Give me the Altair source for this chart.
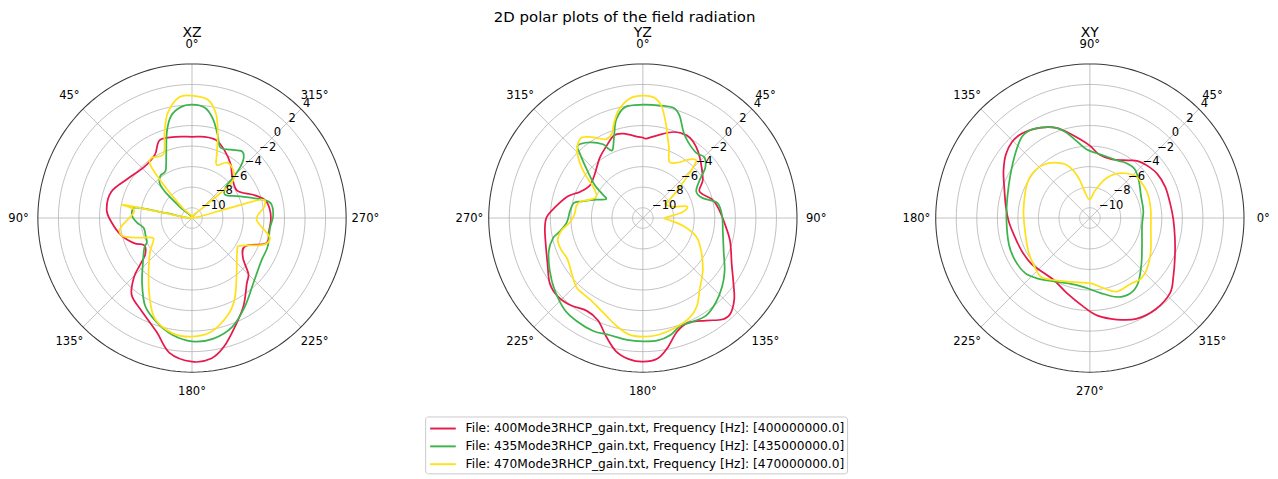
import altair as alt
import pandas as pd

# ---------------- chart constants ----------------
RMIN, RMAX = -11.0, 4.0          # radial axis range [dB]
RPX = 160.0                       # outer circle radius in px
LABEL_PAD = 20.0                  # theta label distance outside the circle

FILES = [
    "File: 400Mode3RHCP_gain.txt, Frequency [Hz]: [400000000.0]",
    "File: 435Mode3RHCP_gain.txt, Frequency [Hz]: [435000000.0]",
    "File: 470Mode3RHCP_gain.txt, Frequency [Hz]: [470000000.0]",
]
COLORS = ["#e6194b", "#3cb44b", "#ffe119"]
R_TICKS = [-10, -8, -6, -4, -2, 0, 2, 4]
THETA_TICKS = [0, 45, 90, 135, 180, 225, 270, 315]

# ---------------- XZ plane ----------------
XZ_RED_ANG = [0, 11.2, 22.5, 30.3, 43.7, 58.6, 71.8, 84.2, 93, 103.5, 113.4, 119.9, 127.9, 131.8, 135.5, 141.8,
              150.5, 162.7, 170.5, 180, 187.8, 194.1, 202.1, 210.4, 220, 225.3, 232.1, 242, 251.3, 259.8, 269.3,
              277.6, 284.2, 290.8, 301.3, 315.5, 324.3, 334.7, 342.8, 351]
XZ_RED_DB = [-3.1, -2.94, -2.79, -3.85, -4.19, -3.66, -2.75, -2.65, -3.16, -3.9, -4.85, -5.65, -5.23, -4.27, -2.95, -1.5,
             -0.8, 0.6, 2.3, 2.98, 2.8, 1.87, 0.27, -1.09, -2.7, -3.28, -4.72, -5.14, -3.38, -3.41, -3.32,
             -3.41, -3.72, -4.63, -5.86, -5.41, -4.55, -3.66, -3.06, -3.0]

XZ_GREEN_ANG = [0, 5.8, 11.6, 16.3, 22.1, 29.2, 36.6, 43.1, 46.1, 47.6, 62, 79.3, 79.3, 82.3, 88.5, 95, 101.3,
                110.9, 118.2, 122.1, 131.2, 142.6, 152, 161.2, 170.6, 180, 189.8, 200.3, 211.1, 223.1, 238.3,
                249.5, 262.2, 271.6, 280.4, 284.5, 294.1, 305, 312.7, 314.3, 316.3, 319.1, 323.2, 330.5, 338.1,
                342.7, 348, 353.3]
XZ_GREEN_DB = [0.03, -0.15, -0.86, -2.28, -4.34, -5.73, -5.85, -6.41, -7.52, -9.51, -11, -8.46, -5.58, -5.15, -5.2,
               -5.65, -6.2, -6.17, -6.02, -5.52, -4.67, -3.0, -1.3, -0.3, 0.54, 1.0, 0.93, 0.29, -1.0, -2.28, -3.07,
               -3.13, -3.35, -3.1, -3.19, -3.88, -5.85, -7.06, -6.52, -5.52, -4.28, -3.33, -2.89, -3.36, -3.6,
               -2.57, -1.16, -0.2]

XZ_YELLOW_ANG = [0, 6.1, 12.9, 17.7, 23.9, 33.8, 38.3, 41, 43, 55, 79.2, 79, 80.7, 84, 90, 96.5, 100.8, 105.4,
                 110.9, 117.7, 128.4, 140.4, 151.5, 159.8, 170.5, 180, 189.6, 200, 207.6, 217, 233.7, 240.2,
                 249.3, 255, 259.4, 269.1, 279.3, 284.8, 285, 298, 312.8, 311.7, 317.5, 327.4, 335, 338.7,
                 342.7, 346.9, 352.2]
XZ_YELLOW_DB = [0.91, 0.82, -0.48, -2.22, -4.18, -3.95, -4.53, -7.2, -9.6, -11, -7.8, -4.13, -5.1, -5.33, -4.89,
                -4.12, -3.82, -4.17, -5.63, -6.75, -5.8, -4.37, -2.33, -0.55, 0.38, 0.54, 0.22, -0.9, -2.06, -3.8,
                -5.55, -5.58, -3.63, -3.14, -3.66, -4.73, -3.85, -4.03, -7.1, -11, -9.3, -5.96, -4.97, -4.6, -5.3,
                -4.37, -2.56, -0.64, 0.6]

# ---------------- YZ plane ----------------
YZ_RED_ANG = [0, 2.5, 10.1, 19.8, 27.9, 33.4, 39.6, 47.3, 57.8, 65, 75.2, 83.5, 95.1, 105.1, 117.4, 125.8, 131.7,
              137.7, 142, 148.4, 156.5, 163.3, 169.3, 174, 180, 185.7, 191.5, 197.2, 203.6, 211.1, 219.6, 227.4,
              234.9, 244.2, 254.6, 263.8, 270.4, 276.7, 286, 292.9, 301.9, 312.6, 324.4, 332.8, 340.9, 347.3, 356.8]
YZ_RED_DB = [-3.16, -3.26, -2.82, -2.1, -1.88, -2.1, -2.58, -3.28, -4.11, -4.91, -4.0, -3.55, -2.94, -2.2, -1.26,
             -0.13, 0.91, 1.63, 1.53, 0.71, 0.1, 0.55, 1.86, 2.74, 2.98, 2.8, 2.21, 1.07, -0.12, -0.45, 0.02, 0.25,
             0.07, -0.7, -1.2, -1.41, -1.63, -2.35, -3.37, -4.4, -4.95, -4.65, -3.79, -3.18, -2.47, -2.58, -3.09]

YZ_GREEN_ANG = [0, 9.1, 15.7, 19.8, 25.3, 31, 39.4, 45.3, 51, 56.4, 63.7, 71.6, 78.5, 88.4, 99.8, 112.3, 122.7,
                130.9, 139.3, 147.1, 154.9, 160.9, 166.7, 173.1, 180, 187.4, 196, 203.7, 212.4, 220.8, 230.9, 240.6,
                250.6, 257.3, 260.6, 266.8, 275.6, 282.4, 285.4, 291.6, 297.4, 300.8, 304.4, 310.5, 315.4, 318.1,
                325.1, 331.6, 333.3, 336.1, 340.9, 345, 351.1]
YZ_GREEN_DB = [0.03, 0.08, 0.13, -0.44, -1.74, -2.41, -2.8, -2.58, -3.18, -4.38, -5.2, -4.86, -3.61, -3.29, -3.1,
               -2.5, -1.54, -0.8, -0.13, 0.31, 0.18, 0.11, 0.69, 1.0, 1.0, 0.95, 0.84, 1.0, 0.92, 0.71, 0.07, -0.6,
               -1.29, -2.03, -2.77, -3.59, -3.88, -4.13, -4.86, -6.14, -6.98, -6.4, -5.34, -3.9, -2.33, -1.52,
               -2.02, -2.84, -3.39, -3.73, -2.47, -1.04, -0.05]

YZ_YELLOW_ANG = [0, 5.5, 9.5, 13.4, 16.5, 20.5, 25.1, 31.6, 38.7, 42.8, 44.8, 47, 50.1, 53.1, 57.2, 59.4, 70, 74.2,
                 77.3, 82, 84.6, 90, 94.2, 101.2, 109.3, 119.6, 131.2, 141.7, 148.4, 154.6, 164.4, 172.8, 180, 186.9,
                 194.2, 202.9, 213, 223.1, 230.9, 241.3, 248.9, 255.6, 261.4, 266.7, 273.2, 280.7, 285.2, 289.2, 295,
                 302.2, 306.1, 310.7, 316.1, 321.9, 326.2, 331.5, 335.1, 339.9, 343.3, 347.6, 354]
YZ_YELLOW_DB = [0.91, 0.75, 0.03, -1.43, -2.6, -3.74, -4.94, -4.67, -3.69, -3.35, -4.06, -5.17, -6.26, -7.24, -8.17,
                -8.41, -7.8, -6.73, -6.57, -7.17, -7.98, -8.87, -8.45, -6.97, -5.49, -4.47, -3.25, -2.09, -0.95,
                -0.31, 0.17, 0.47, 0.54, 0.4, -0.24, -1.03, -1.55, -1.64, -2.15, -2.64, -2.47, -2.45, -3.01, -3.9,
                -4.34, -4.43, -4.76, -5.56, -6.02, -5.29, -4.25, -2.97, -1.78, -1.16, -1.49, -2.19, -2.53, -2.25,
                -1.28, -0.18, 0.72]

# ---------------- XY plane ----------------
XY_RED_ANG = [10.7, 22.5, 33.2, 42.1, 49.9, 56.4, 69.2, 81.6, 90, 97.3, 103.1, 109.9, 114.9, 121.7, 128.8, 135.5,
              142.9, 151.3, 160, 171.9, 183, 195.3, 206, 218.3, 229, 240.1, 253, 265.4, 274.5, 284.9, 294.7, 305.8,
              316.9, 324.8, 335, 346.6, 359.3]
XY_RED_DB = [-3.06, -3.06, -3.16, -3.43, -3.75, -4.26, -4.9, -4.76, -3.95, -3.25, -2.57, -1.7, -1.25, -0.8, -0.45,
             -0.4, -0.75, -1.42, -2.13, -2.74, -3.12, -3.5, -3.64, -3.77, -4.02, -4.02, -3.36, -2.4, -1.47, -0.78,
             -0.2, -0.06, -0.31, -1.06, -1.87, -2.49, -2.88]

XY_GREEN_ANG = [7.5, 22.8, 37.6, 47.6, 56.2, 64.9, 75.7, 84.6, 92.9, 99.7, 105.1, 109.9, 116.6, 123.4, 130, 138.8,
                150.9, 165.3, 180.7, 198.3, 209.9, 220.4, 229.4, 239.4, 252, 265.7, 278.3, 288.9, 297.8, 306.3,
                318.2, 332.9, 351.9]
XY_GREEN_DB = [-5.75, -5.59, -4.99, -4.54, -4.58, -4.8, -4.79, -4.64, -4.3, -3.4, -2.43, -1.7, -1.12, -0.68, -0.7,
               -1.38, -2.17, -2.71, -2.88, -2.71, -2.64, -2.73, -3.24, -3.86, -4.31, -4.24, -3.62, -2.88, -2.67,
               -3.1, -4.27, -5.3, -5.87]

XY_YELLOW_ANG = [8.1, 23.3, 35.2, 43.5, 51.9, 60, 68.1, 74.1, 80.3, 91, 101, 104.8, 109.1, 114.5, 122.8, 130.2,
                 139.3, 148.5, 159, 175.3, 192.1, 208.3, 221.8, 230.5, 240.1, 252.9, 264, 271.1, 281.4, 290.2,
                 302.4, 310.2, 319.5, 331.4, 350.1]
XY_YELLOW_DB = [-5.02, -4.89, -4.9, -4.99, -5.46, -6.04, -6.88, -7.68, -8.39, -9.21, -8.38, -7.2, -6.12, -5.25,
                -4.58, -4.15, -3.93, -3.98, -4.25, -4.52, -4.56, -4.2, -3.81, -3.56, -4.02, -4.5, -4.67, -4.64,
                -4.03, -3.38, -3.46, -3.28, -3.62, -4.25, -4.98]

# panel name -> (compass angle of theta=0, direction: +1 clockwise, -1 counter-clockwise)
PANELS = [("XZ", 0, -1), ("YZ", 0, 1), ("XY", 90, -1)]
CURVES = {
    "XZ": [(XZ_RED_ANG, XZ_RED_DB), (XZ_GREEN_ANG, XZ_GREEN_DB), (XZ_YELLOW_ANG, XZ_YELLOW_DB)],
    "YZ": [(YZ_RED_ANG, YZ_RED_DB), (YZ_GREEN_ANG, YZ_GREEN_DB), (YZ_YELLOW_ANG, YZ_YELLOW_DB)],
    "XY": [(XY_RED_ANG, XY_RED_DB), (XY_GREEN_ANG, XY_GREEN_DB), (XY_YELLOW_ANG, XY_YELLOW_DB)],
}

FONT = "DejaVu Sans"
W, H = 370, 376
XDOM = [-185, 185]
YDOM = [-190, 186]

X = alt.X("px:Q", scale=alt.Scale(domain=XDOM), axis=None)
Y = alt.Y("py:Q", scale=alt.Scale(domain=YDOM), axis=None)

COLOR = alt.Color(
    "file:N",
    scale=alt.Scale(domain=FILES, range=COLORS),
    legend=alt.Legend(
        title=None, orient="none", legendX=427, legendY=392,
        symbolType="M-1.4,0H1.4", symbolStrokeWidth=2, symbolSize=361, symbolOffset=6,
        labelFont=FONT, labelFontSize=12.7, labelColor="#000000", labelLimit=800,
        labelOffset=13, rowPadding=0.5, padding=2,
        strokeColor="#c8c8c8", fillColor="#ffffff", cornerRadius=3,
    ),
)


def polar(chart, off, d):
    return chart.transform_calculate(
        rpx=f"(max(datum.db, {RMIN}) - ({RMIN})) / {RMAX - RMIN} * {RPX} + (datum.pad || 0)",
        phi=f"({off} + ({d}) * datum.theta) * PI / 180",
    ).transform_calculate(
        px="datum.rpx * sin(datum.phi)",
        py="datum.rpx * cos(datum.phi)",
    )


def panel(name, off, d):
    rows = []
    for fi, (ang, db) in enumerate(CURVES[name]):
        for k, (a, g) in enumerate(zip(ang, db)):
            rows.append({"file": FILES[fi], "order": k, "theta": a, "db": g})
    curves = pd.DataFrame(rows)

    grid = pd.DataFrame([{"ring": rv, "theta": t, "db": rv}
                         for rv in R_TICKS[:-1] for t in range(0, 361, 2)])
    outer = pd.DataFrame([{"ring": RMAX, "theta": t, "db": RMAX} for t in range(0, 361, 2)])
    spokes = pd.DataFrame([{"spoke": t, "theta": t, "db": v, "k": i}
                           for t in THETA_TICKS for i, v in enumerate((RMIN, RMAX))])
    tlabels = pd.DataFrame({"theta": THETA_TICKS, "db": RMAX, "pad": LABEL_PAD,
                            "label": [f"{t}°" for t in THETA_TICKS]})
    rl_theta = ((45 - off) * d) % 360
    rlabels = pd.DataFrame({"theta": rl_theta, "db": R_TICKS, "pad": 0,
                            "label": [str(v).replace("-", "\u2212") for v in R_TICKS]})

    grid_l = polar(alt.Chart(grid), off, d).mark_line(color="#b0b0b0", strokeWidth=0.8).encode(
        x=X, y=Y, detail="ring:N", order="theta:Q")
    spoke_l = polar(alt.Chart(spokes), off, d).mark_line(color="#b0b0b0", strokeWidth=0.8).encode(
        x=X, y=Y, detail="spoke:N", order="k:Q")
    outer_l = polar(alt.Chart(outer), off, d).mark_line(color="#3a3a3a", strokeWidth=1.1).encode(
        x=X, y=Y, detail="ring:N", order="theta:Q")
    curve_l = polar(alt.Chart(curves), off, d).mark_line(
        interpolate="cardinal-closed", strokeWidth=1.8).encode(
        x=X, y=Y, color=COLOR, order="order:Q")
    tl_l = polar(alt.Chart(tlabels), off, d).mark_text(
        font=FONT, fontSize=12, color="#000000", align="center", baseline="middle").encode(
        x=X, y=Y, text="label:N")
    rl_l = polar(alt.Chart(rlabels), off, d).mark_text(
        font=FONT, fontSize=12, color="#000000", align="left", baseline="bottom", dx=2, dy=1).encode(
        x=X, y=Y, text="label:N")

    return alt.layer(grid_l, spoke_l, outer_l, curve_l, tl_l, rl_l).properties(
        width=W, height=H,
        title=alt.TitleParams(name, font=FONT, fontSize=14.5, fontWeight="normal",
                              color="#000000", offset=-2),
    )


chart = alt.hconcat(*[panel(n, o, d) for n, o, d in PANELS], spacing=78).properties(
    title=alt.TitleParams("2D polar plots of the field radiation", font=FONT, fontSize=15.5,
                          fontWeight="normal", color="#000000", anchor="middle", dx=-15,
                          offset=0),
    padding={"top": -6, "left": 0, "right": 0, "bottom": 0},
).configure_view(stroke=None)

chart.save("out.html", embed_options={"renderer": "svg", "actions": False})
